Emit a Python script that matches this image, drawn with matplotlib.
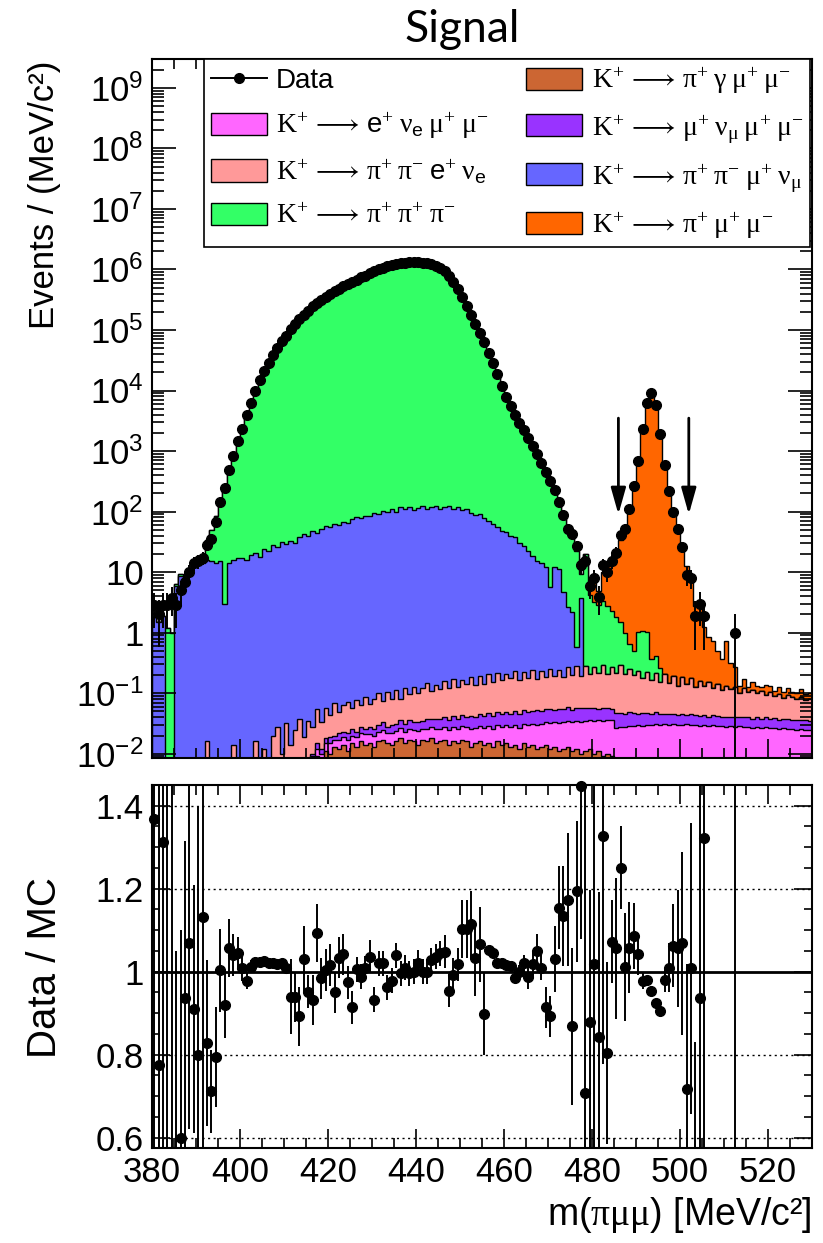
import numpy as np
import matplotlib
matplotlib.use('Agg')
import matplotlib.pyplot as plt
from matplotlib.lines import Line2D
from matplotlib.patches import Patch
from matplotlib.ticker import FixedLocator, FixedFormatter, MultipleLocator, NullFormatter

plt.rcParams['font.family'] = ['Liberation Sans', 'DejaVu Sans']
plt.rcParams['mathtext.fontset'] = 'custom'
plt.rcParams['mathtext.rm'] = 'Liberation Serif'
plt.rcParams['mathtext.it'] = 'Liberation Serif:italic'
plt.rcParams['mathtext.sf'] = 'Liberation Sans'

nan = np.nan
# 1 MeV bins from 380 to 530
edges = np.arange(380, 531, 1.0)
centers = edges[:-1] + 0.5
NB = len(centers)

# data, events per bin
data = np.array([
    2.9, 2.0, 2.9, 2.9, 3.8, 2.9, 5.0, 6.9, 10, 14,
    15, 17, 28, 35, 68, 145, 243, 490, 815, 1440,
    2300, 4000, 6300, 1.0e4, 1.5e4, 2.1e4, 2.9e4, 3.9e4, 5.0e4, 6.5e4,
    8.1e4, 1.05e5, 1.26e5, 1.51e5, 1.78e5, 2.09e5, 2.45e5, 2.75e5, 3.16e5, 3.55e5,
    3.98e5, 4.37e5, 4.79e5, 5.25e5, 5.75e5, 6.31e5, 6.76e5, 7.41e5, 7.94e5, 8.71e5,
    9.33e5, 1.0e6, 1.05e6, 1.12e6, 1.17e6, 1.23e6, 1.27e6, 1.30e6, 1.31e6, 1.32e6,
    1.32e6, 1.30e6, 1.27e6, 1.22e6, 1.15e6, 1.05e6, 9.33e5, 7.94e5, 6.17e5, 4.68e5,
    3.55e5, 2.51e5, 1.78e5, 1.26e5, 8.9e4, 6.3e4, 4.2e4, 2.8e4, 1.86e4, 1.2e4,
    7900, 5500, 4000, 2950, 2190, 1620, 1200, 890, 645, 447,
    316, 229, 145, 87, 52, 43, 27, 13, 15, 6,
    8, 3.9, 13, 10, 15, 21, 41, 52, 110, 260,
    690, 2300, 6300, 9000, 5800, 1900, 590, 220, 100, 52,
    26, 9, 8, 1.9, 3, 1.9, 0, 0, 0, 0,
    0, 0, 1.0, 0, 0, 0, 0, 0, 0, 0,
    0, 0, 0, 0, 0, 0, 0, 0, 0, 0])

# K+ -> pi+ pi+ pi-
k3pi = np.array([
    0, 0, 0, 1.2, 1.0, 0.5, 0.6, 0.4, 0.3, 2.4,
    2.8, 1.0, 18, 34, 72, 130, 261, 450, 768, 1362,
    2265, 3980, 6280, 9980, 1.5e4, 2.1e4, 2.9e4, 3.9e4, 5.0e4, 6.5e4,
    8.1e4, 1.05e5, 1.26e5, 1.51e5, 1.78e5, 2.09e5, 2.45e5, 2.75e5, 3.16e5, 3.55e5,
    3.98e5, 4.37e5, 4.79e5, 5.25e5, 5.75e5, 6.31e5, 6.76e5, 7.41e5, 7.94e5, 8.71e5,
    9.33e5, 1.0e6, 1.05e6, 1.12e6, 1.17e6, 1.23e6, 1.27e6, 1.30e6, 1.31e6, 1.32e6,
    1.32e6, 1.30e6, 1.27e6, 1.22e6, 1.15e6, 1.05e6, 9.33e5, 7.94e5, 6.17e5, 4.68e5,
    3.55e5, 2.51e5, 1.78e5, 1.26e5, 8.9e4, 6.3e4, 4.2e4, 2.8e4, 1.86e4, 1.2e4,
    7850, 5460, 3960, 2920, 2170, 1600, 1180, 875, 630, 477,
    349, 210, 115, 72, 42, 48, 22, 5.5, 20, 4,
    3, 2.6, 3, 2.5, 2, 1.6, 1.2, 0.8, 0.4, 0.3,
    0.8, 0.9, 0.8, 0.2, 0.2, 0.1, 0, 0, 0, 0,
    0, 0, 0, 0, 0, 0, 0, 0, 0, 0,
    0, 0, 0, 0, 0, 0, 0, 0, 0, 0,
    0, 0, 0, 0, 0, 0, 0, 0, 0, 0])

# K+ -> pi+ pi- mu+ nu
pipimunu = np.array([
    1.8, 1.5, 1.9, 0, 0, 5.9, 8.7, 7, 9, 13,
    16, 14, 16, 15, 14, 15, 3, 14, 16, 17,
    17, 16, 19, 21, 18, 24, 22, 28, 26, 31,
    29, 33, 30, 38, 42, 40, 47, 44, 52, 57,
    55, 62, 60, 68, 65, 75, 80, 78, 86, 83,
    95, 90, 104, 100, 112, 98, 118, 110, 120, 108,
    115, 122, 112, 118, 125, 110, 120, 124, 112, 118,
    105, 110, 95, 88, 92, 78, 70, 62, 55, 48,
    46, 40, 38, 30, 27, 22, 18, 15, 14, 12,
    5.5, 12, 11, 4.6, 2.4, 2.0, 0.3, 3.5, 0, 0]
    + [0] * 50)

# K+ -> pi+ pi- e+ nu  (starts at bin 8)
pipienu_vals = [
    0.002, 0.003, 0.002, 0.004, 0.016, 0.002, 0.003, 0.002, 0.004, 0.003,
    0.014, 0.003, 0.004, 0.003, 0.005, 0.016, 0.004, 0.012, 0.005, 0.02,
    0.028, 0.01, 0.03, 0.012, 0.022, 0.035, 0.015, 0.03, 0.018, 0.04,
    0.022, 0.038, 0.025, 0.048, 0.026, 0.04, 0.05, 0.03, 0.055, 0.035,
    0.06, 0.038, 0.055, 0.07, 0.042, 0.075, 0.05, 0.08, 0.045, 0.09,
    0.06, 0.095, 0.065, 0.085, 0.11, 0.07, 0.1, 0.08, 0.12, 0.085,
    0.13, 0.09, 0.12, 0.1, 0.14, 0.095, 0.15, 0.1, 0.16, 0.11,
    0.17, 0.12, 0.16, 0.13, 0.18, 0.12, 0.17, 0.13, 0.19, 0.12,
    0.18, 0.13, 0.2, 0.14, 0.19, 0.13, 0.21, 0.15, 0.22, 0.14,
    0.23, 0.15, 0.21, 0.16, 0.24, 0.15, 0.22, 0.17, 0.24, 0.16,
    0.2, 0.15, 0.19, 0.13, 0.18, 0.12, 0.17, 0.11, 0.16, 0.1,
    0.15, 0.09, 0.14, 0.1, 0.13, 0.085, 0.12, 0.09, 0.11, 0.08,
    0.1, 0.07, 0.09, 0.075, 0.085, 0.06, 0.08, 0.065, 0.075, 0.06,
    0.07, 0.055, 0.065, 0.05, 0.06, 0.045, 0.055, 0.05, 0.045, 0.05,
    0.04, 0.045]

# K+ -> mu+ nu mu+ mu-  (starts at bin 34)
munumumu_vals = [
    0.001, 0.002, 0.001, 0.003, 0.002, 0.003,
    0.004, 0.003, 0.005, 0.004, 0.005, 0.006, 0.004, 0.006, 0.005, 0.007,
    0.006, 0.007, 0.008, 0.006, 0.008, 0.007, 0.009, 0.008, 0.01, 0.008,
    0.01, 0.009, 0.011, 0.01, 0.012, 0.011, 0.013, 0.011, 0.014, 0.012,
    0.015, 0.013, 0.016, 0.014, 0.017, 0.015, 0.018, 0.016, 0.018, 0.017,
    0.019, 0.017, 0.02, 0.018, 0.021, 0.019, 0.02, 0.022, 0.019, 0.021,
    0.023, 0.02, 0.022, 0.021, 0.024, 0.02, 0.022, 0.023, 0.021, 0.02,
    0.022, 0.019, 0.021, 0.02, 0.018, 0.02, 0.019, 0.017, 0.019, 0.018,
    0.016, 0.018, 0.017, 0.015, 0.017, 0.016, 0.014, 0.016, 0.015, 0.014,
    0.015, 0.013, 0.015, 0.014, 0.013, 0.014, 0.012, 0.014, 0.013, 0.012,
    0.013, 0.012, 0.013, 0.011, 0.012, 0.013, 0.011, 0.012, 0.011, 0.012,
    0.011, 0.012, 0.01, 0.011, 0.012, 0.01, 0.011, 0.01, 0.011, 0.01]

# K+ -> e+ nu mu+ mu-  (starts at bin 30)
enumumu_vals = [
    0.002, 0.002, 0.003, 0.002, 0.003, 0.003, 0.004, 0.003, 0.004, 0.004,
    0.005, 0.004, 0.005, 0.005, 0.006, 0.005, 0.006, 0.006, 0.007, 0.006,
    0.007, 0.007, 0.008, 0.007, 0.008, 0.008, 0.009, 0.008, 0.009, 0.009,
    0.01, 0.009, 0.01, 0.01, 0.011, 0.01, 0.011, 0.011, 0.012, 0.011,
    0.012, 0.012, 0.013, 0.012, 0.013, 0.013, 0.014, 0.013, 0.014, 0.014,
    0.015, 0.015, 0.016, 0.015, 0.016, 0.017, 0.017, 0.018, 0.018, 0.019,
    0.02, 0.02, 0.021, 0.021, 0.022, 0.022, 0.023, 0.023, 0.024, 0.024,
    0.025, 0.025, 0.026, 0.026, 0.027, 0.027, 0.028, 0.028, 0.029, 0.029,
    0.03, 0.029, 0.03, 0.03, 0.031, 0.03, 0.031, 0.03, 0.031, 0.03,
    0.03, 0.031, 0.03, 0.03, 0.029, 0.03, 0.029, 0.03, 0.029, 0.029,
    0.028, 0.029, 0.028, 0.029, 0.028, 0.028, 0.027, 0.028, 0.027, 0.028,
    0.027, 0.027, 0.026, 0.027, 0.026, 0.026, 0.025, 0.026, 0.025, 0.025]

# K+ -> pi+ gamma mu+ mu-  (starts at bin 36)
pigmumu_vals = [
    0.005, 0.009, 0.006, 0.011,
    0.010, 0.013, 0.012, 0.014, 0.011, 0.015, 0.013, 0.016, 0.014, 0.015,
    0.013, 0.016, 0.017, 0.015, 0.014, 0.016, 0.018, 0.015, 0.017, 0.016,
    0.014, 0.017, 0.016, 0.018, 0.015, 0.016, 0.017, 0.014, 0.016, 0.015,
    0.017, 0.016, 0.013, 0.015, 0.016, 0.014, 0.015, 0.013, 0.016, 0.014,
    0.015, 0.013, 0.014, 0.012, 0.015, 0.013, 0.014, 0.012, 0.013, 0.014,
    0.012, 0.013, 0.011, 0.012, 0.013, 0.011, 0.012, 0.010, 0.011, 0.012,
    0.010, 0.011, 0.009, 0.010, 0.009]

# K+ -> pi+ mu+ mu-  (starts at bin 99)
pimumu_vals = [
    2.8,
    4.9, 2.0, 6.8, 10, 12, 18, 32, 50, 103, 240,
    660, 2350, 6430, 9430, 6280, 2100, 602, 218, 94, 49,
    24, 12.5, 7.9, 2.6, 2.8, 1.1, 0.7, 0.6, 0.35, 0.25,
    0.6, 0.2, 0.15, 0.03, 0.05, 0.02, 0.04, 0.03, 0.02, 0.04,
    0.03, 0.02, 0.03, 0.02, 0.03, 0.02, 0.02, 0.03, 0.02, 0.02]


def place(vals, start):
    h = np.zeros(NB)
    h[start:start + len(vals)] = vals
    return h


pipienu = place(pipienu_vals, 8)
munumumu = place(munumumu_vals, 34)
enumumu = place(enumumu_vals, 30)
pigmumu = place(pigmumu_vals, 36)
pimumu = place(pimumu_vals, 99)

# Data / MC ratio and its errors
ratio = np.array([
    1.368, 0.776, 1.312, 2.9, 3.8, 0.45, 0.6, 0.936, 1.07, 0.91,
    0.80, 1.132, 0.828, 0.712, 0.794, 1.004, 0.92, 1.056, 1.04, 1.044,
    1.008, 0.978, 1.012, 1.024, 1.024, 1.026, 1.02, 1.022, 1.018, 1.02,
    1.008, 0.94, 0.938, 0.892, 1.03, 0.952, 0.932, 1.094, 0.984, 1.004,
    1.016, 0.95, 1.034, 1.042, 0.974, 0.914, 1.006, 0.988, 1.008, 1.036,
    0.932, 1.02, 1.02, 0.962, 0.978, 1.04, 0.996, 1.01, 0.996, 1.0,
    1.022, 1.0, 1.0, 1.028, 1.036, 1.044, 1.048, 0.954, 0.992, 1.018,
    1.102, 1.102, 1.114, 1.032, 1.066, 0.898, 1.052, 1.046, 1.022, 1.022,
    1.016, 1.014, 0.984, 1.0, 1.02, 0.988, 1.018, 1.05, 1.01, 0.914,
    0.892, 1.03, 1.154, 1.134, 1.174, 0.868, 1.194, 1.448, 0.708, 0.878,
    1.018, 0.842, 1.328, 0.804, 1.072, 1.056, 1.25, 1.012, 1.058, 1.086,
    1.042, 0.978, 0.98, 0.954, 0.924, 0.906, 0.98, 1.01, 1.062, 1.056,
    1.068, 0.718, 1.008, 0.48, 0.936, 1.322, nan, nan, nan, nan,
    nan, nan, 3.0, nan, nan, nan, nan, nan, nan, nan,
    nan, nan, nan, nan, nan, nan, nan, nan, nan, nan])
ratio_err = np.array([
    0.9, 0.8, 0.9, 2.4, 3.3, 0.6, 0.5, 0.38, 0.45, 0.3,
    0.6, 0.6, 0.2, 0.1, 0.12, 0.1, 0.08, 0.07, 0.05, 0.04,
    0.03, 0.02, 0.015, 0.012, 0.012, 0.01, 0.01, 0.01, 0.01, 0.01,
    0.01, 0.09, 0.06, 0.07, 0.08, 0.04, 0.06, 0.07, 0.05, 0.05,
    0.05, 0.05, 0.05, 0.05, 0.04, 0.04, 0.03, 0.03, 0.03, 0.04,
    0.03, 0.03, 0.03, 0.03, 0.03, 0.03, 0.03, 0.03, 0.03, 0.03,
    0.03, 0.03, 0.03, 0.03, 0.03, 0.03, 0.04, 0.04, 0.04, 0.04,
    0.07, 0.07, 0.08, 0.09, 0.09, 0.1, 0.01, 0.01, 0.01, 0.01,
    0.01, 0.01, 0.01, 0.015, 0.02, 0.03, 0.03, 0.04, 0.03, 0.05,
    0.05, 0.08, 0.1, 0.12, 0.16, 0.19, 0.17, 0.37, 0.8, 0.32,
    0.8, 0.35, 0.55, 0.22, 0.1, 0.17, 0.1, 0.13, 0.11, 0.08,
    0.05, 0.02, 0.01, 0.01, 0.01, 0.015, 0.03, 0.06, 0.1, 0.14,
    0.22, 0.3, 0.35, 0.35, 0.6, 1.0, nan, nan, nan, nan,
    nan, nan, 3.0, nan, nan, nan, nan, nan, nan, nan,
    nan, nan, nan, nan, nan, nan, nan, nan, nan, nan])

# stack order, bottom to top
stack = [pigmumu, enumumu, munumumu, pipienu, pipimunu, k3pi, pimumu]
stack_colors = ['#cc6633', '#ff66ff', '#9933ff', '#ff9999', '#6666ff', '#33ff66', '#ff6600']
stack_labels = [
    r'$\mathrm{K^{+}\,\longrightarrow\,\pi^{+}\;\gamma\;\mu^{+}\;\mu^{-}}$',
    r'$\mathrm{K^{+}\,\longrightarrow\,}\mathsf{e}^{+}\;\mathrm{\nu_{\mathsf{e}}\;\mu^{+}\;\mu^{-}}$',
    r'$\mathrm{K^{+}\,\longrightarrow\,\mu^{+}\;\nu_{\mu}\;\mu^{+}\;\mu^{-}}$',
    r'$\mathrm{K^{+}\,\longrightarrow\,\pi^{+}\;\pi^{-}}\;\mathsf{e}^{+}\;\mathrm{\nu_{\mathsf{e}}}$',
    r'$\mathrm{K^{+}\,\longrightarrow\,\pi^{+}\;\pi^{-}\;\mu^{+}\;\nu_{\mu}}$',
    r'$\mathrm{K^{+}\,\longrightarrow\,\pi^{+}\;\pi^{+}\;\pi^{-}}$',
    r'$\mathrm{K^{+}\,\longrightarrow\,\pi^{+}\;\mu^{+}\;\mu^{-}}$',
]

# signal window arrows
arrow_x = [486, 502]
arrow_top = 3500
arrow_tip = 90

log_ticks = [1e-2, 1e-1, 1, 10, 1e2, 1e3, 1e4, 1e5, 1e6, 1e7, 1e8, 1e9]
log_labels = [r'$\mathdefault{10^{-2}}$', r'$\mathdefault{10^{-1}}$', '1', '10',
              r'$\mathdefault{10^{2}}$', r'$\mathdefault{10^{3}}$', r'$\mathdefault{10^{4}}$',
              r'$\mathdefault{10^{5}}$', r'$\mathdefault{10^{6}}$', r'$\mathdefault{10^{7}}$',
              r'$\mathdefault{10^{8}}$', r'$\mathdefault{10^{9}}$']
ratio_ticks = [0.6, 0.8, 1.0, 1.2, 1.4]
ratio_labels = ['0.6', '0.8', '1', '1.2', '1.4']
x_ticks = [380, 400, 420, 440, 460, 480, 500, 520]

W, H = 823, 1243
fig = plt.figure(figsize=(W / 100, H / 100), dpi=100)
ax = fig.add_axes([152 / W, 1 - 758 / H, 660 / W, 699 / H])
ax2 = fig.add_axes([152 / W, 1 - 1148 / H, 660 / W, 363 / H])

floor = 1e-5
cum = np.cumsum(np.array(stack), axis=0)
for k in reversed(range(len(stack))):
    top = np.maximum(cum[k], floor)
    ax.stairs(top, edges, baseline=floor, fill=True, color=stack_colors[k], lw=0)
    ax.stairs(top, edges, baseline=floor, color='k', lw=1.0)

m = data > 0
derr = np.sqrt(data[m])
lo = np.minimum(derr, data[m] - 1e-4)
ax.errorbar(centers[m], data[m], yerr=[lo, derr], fmt='o', color='k', ms=7, elinewidth=1.4,
            capsize=0, zorder=5)

for xa in arrow_x:
    ax.annotate('', xy=(xa, arrow_tip), xytext=(xa, arrow_top),
                arrowprops=dict(arrowstyle='-|>,head_length=1.6,head_width=0.45', color='k',
                                lw=2, shrinkA=0, shrinkB=0), zorder=6)

ax.set_yscale('log')
ax.set_xlim(380, 530)
ax.set_ylim(0.0085, 3e9)
ax.yaxis.set_major_locator(FixedLocator(log_ticks))
ax.yaxis.set_major_formatter(FixedFormatter(log_labels))
ax.yaxis.set_minor_locator(FixedLocator([b * 10.0 ** e for e in range(-3, 10) for b in range(2, 10)]))
ax.yaxis.set_minor_formatter(NullFormatter())
ax.xaxis.set_major_locator(FixedLocator(x_ticks))
ax.xaxis.set_minor_locator(MultipleLocator(5))
ax.set_xticklabels([])

# legend, filled column by column
handles = [Line2D([], [], color='k', marker='o', ms=7, lw=1.4)]
labels = ['Data']
for k in [1, 3, 5, 0, 2, 4, 6]:
    handles.append(Patch(facecolor=stack_colors[k], edgecolor='k', lw=1.0))
    labels.append(stack_labels[k])
leg = ax.legend(handles, labels, ncol=2, loc='upper left',
                bbox_to_anchor=(0.0788, 0.7525, 0.918, 0.2475), mode='expand',
                fontsize=20, frameon=True, fancybox=False, edgecolor='k', framealpha=1,
                handlelength=2.0, handleheight=0.85, labelspacing=0.6, borderaxespad=0,
                columnspacing=0.6, handletextpad=0.35, borderpad=0.25)
leg.get_frame().set_linewidth(1.2)

# ratio panel
ylo, yhi = 0.575, 1.45
ax2.vlines(centers, ratio - ratio_err, ratio + ratio_err, color='k', lw=1.4)
inr = (ratio >= ylo) & (ratio <= yhi)
ax2.plot(centers[inr], ratio[inr], 'o', color='k', ms=7, clip_on=False, zorder=5)
for g in [0.6, 0.8, 1.2, 1.4]:
    ax2.axhline(g, color='k', ls=(0, (1.5, 2.5)), lw=1.0)
ax2.axhline(1.0, color='k', lw=2.0)
ax2.set_xlim(380, 530)
ax2.set_ylim(ylo, yhi)
ax2.yaxis.set_major_locator(FixedLocator(ratio_ticks))
ax2.yaxis.set_major_formatter(FixedFormatter(ratio_labels))
ax2.yaxis.set_minor_locator(MultipleLocator(0.05))
ax2.xaxis.set_major_locator(FixedLocator(x_ticks))
ax2.xaxis.set_major_formatter(FixedFormatter([str(t) for t in x_ticks]))
ax2.xaxis.set_minor_locator(MultipleLocator(5))

for a in (ax, ax2):
    for s in a.spines.values():
        s.set_linewidth(1.5)
    a.tick_params(which='both', direction='in', top=True, right=True, width=1.2,
                  labelsize=25, pad=6)
    a.tick_params(axis='x', which='major', length=14)
    a.tick_params(axis='x', which='minor', length=7)
ax.tick_params(axis='y', which='major', length=17)
ax.tick_params(axis='y', which='minor', length=8.5)
ax2.tick_params(axis='y', which='major', length=13)
ax2.tick_params(axis='y', which='minor', length=6)

fig.text(462 / W, 1 - 30 / H, 'Signal', fontsize=32, family=['Lato', 'DejaVu Sans'],
         ha='center', va='center')
fig.text(45 / W, 1 - 195 / H, 'Events / (MeV/c²)', rotation=90, fontsize=25,
         ha='center', va='center')
fig.text(45 / W, 1 - 968 / H, 'Data / MC', rotation=90, fontsize=29, ha='center', va='center')
fig.text(812 / W, 1 - 1215 / H, r'm($\mathrm{\pi\mu\mu}$) [MeV/c²]', fontsize=27,
         ha='right', va='center')

fig.savefig('out.png', dpi=100)
